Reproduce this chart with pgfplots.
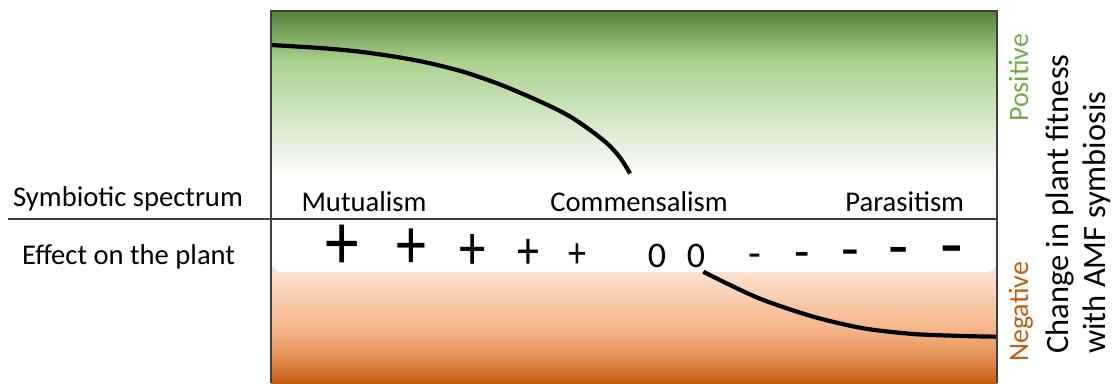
\documentclass[border=0pt]{standalone}
\usepackage{fontspec}
\setmainfont{Carlito}
\usepackage{pgfplots}
\pgfplotsset{compat=1.18}
\definecolor{posdark}{HTML}{548235}
\definecolor{posmid}{HTML}{A9D18E}
\definecolor{posfont}{HTML}{70AD47}
\definecolor{neglight}{HTML}{FBE5D6}
\definecolor{negmid}{HTML}{F4B183}
\definecolor{negmid2}{HTML}{E08A4C}
\definecolor{negdark}{HTML}{C55A11}
\definecolor{framegray}{HTML}{3F3F3F}
\newcommand{\fs}[1]{\fontsize{#1}{#1}\selectfont}
\newcommand{\tallplus}{\scalebox{1}[1.2]{+}}

\begin{document}
\begin{tikzpicture}
\begin{axis}[
    at={(271pt,-383pt)}, anchor=south west,
    width=726pt, height=372pt, scale only axis,
    xmin=0, xmax=726, ymin=-164, ymax=208,
    hide axis,
]
% background gradients (positive above, negative below)
\shade[top color=posdark, bottom color=posmid] (axis cs:0,208) rectangle (axis cs:726,158.5);
\shade[top color=posmid, bottom color=white] (axis cs:0,159) rectangle (axis cs:726,40);
\shade[top color=neglight, bottom color=negmid] (axis cs:0,-48) rectangle (axis cs:726,-114.5);
\shade[top color=negmid, bottom color=negmid2] (axis cs:0,-114) rectangle (axis cs:726,-141.5);
\shade[top color=negmid2, bottom color=negdark] (axis cs:0,-141) rectangle (axis cs:726,-164);
\fill[white, rounded corners=8pt] (axis cs:2,44) rectangle (axis cs:724,-53);

% fitness curve
\addplot[black, line width=4.2pt, smooth] coordinates {
    (0,174) (49,171) (89,167.3) (129,161.5) (159,155.7) (192,147.3)
    (226,135.7) (259,122) (286,109.5) (302,100.7) (319,89)
    (336,75.7) (347,64) (354,54) (359,45.5)
};
\addplot[black, line width=4.2pt, smooth] coordinates {
    (432.3,-52.7) (459,-66) (492.3,-81) (542.3,-97.7) (592.3,-109.3)
    (642.3,-115) (692.3,-117) (726,-117.7)
};

% spectrum labels
\node[anchor=base, font=\fs{28.6}] at (axis cs:93,7.5) {Mutualism};
\node[anchor=base, font=\fs{28.6}] at (axis cs:368,7.5) {Commensalism};
\node[anchor=base, font=\fs{28.6}] at (axis cs:633.7,7.5) {Parasitism};

% effect on the plant
\node[inner sep=0, font=\fs{40}] at (axis cs:71.7,-28) {\scalebox{1.68}[2.02]{+}};
\node[inner sep=0, font=\fs{60}] at (axis cs:140.7,-30) {\tallplus};
\node[inner sep=0, font=\fs{53}] at (axis cs:201.7,-32.7) {\tallplus};
\node[inner sep=0, font=\fs{44}] at (axis cs:257,-35) {\tallplus};
\node[inner sep=0, font=\fs{36}] at (axis cs:306,-37) {\tallplus};
\node[inner sep=0, font=\fs{36}] at (axis cs:386,-37) {0};
\node[inner sep=0, font=\fs{36}] at (axis cs:425,-37) {0};
\node[inner sep=0, font=\fs{42}] at (axis cs:484,-41.5) {-};
\node[inner sep=0, font=\fs{50}] at (axis cs:531,-41.5) {-};
\node[inner sep=0, font=\fs{58}] at (axis cs:579.7,-40.2) {-};
\node[inner sep=0, font=\fs{66}] at (axis cs:627.3,-39.1) {-};
\node[inner sep=0, font=\fs{74}] at (axis cs:680.7,-38.4) {-};
\end{axis}

\draw[framegray, line width=2pt] (271pt,-383pt) -- (271pt,-11pt) -- (997pt,-11pt) -- (997pt,-383pt);
\draw[framegray, line width=2pt] (8pt,-219pt) -- (997pt,-219pt);

\node[anchor=base west, inner sep=0, font=\fs{28.6}] at (13pt,-206pt) {Symbiotic spectrum};
\node[anchor=base west, inner sep=0, font=\fs{28.6}] at (22pt,-264pt) {Effect on the plant};

\node[anchor=base west, inner sep=0, rotate=90, text=posfont, font=\fs{28}] at (1028pt,-122pt) {Positive};
\node[anchor=base west, inner sep=0, rotate=90, text=negdark, font=\fs{28}] at (1028pt,-362pt) {Negative};
\node[anchor=north west, inner sep=0, rotate=90, align=left, font=\fontsize{32.5}{37}\selectfont] at (1046pt,-354pt) {Change in plant fitness\\with AMF symbiosis};

\pgfresetboundingbox
\useasboundingbox (0pt,0pt) rectangle (1113pt,-383pt);
\end{tikzpicture}
\end{document}
